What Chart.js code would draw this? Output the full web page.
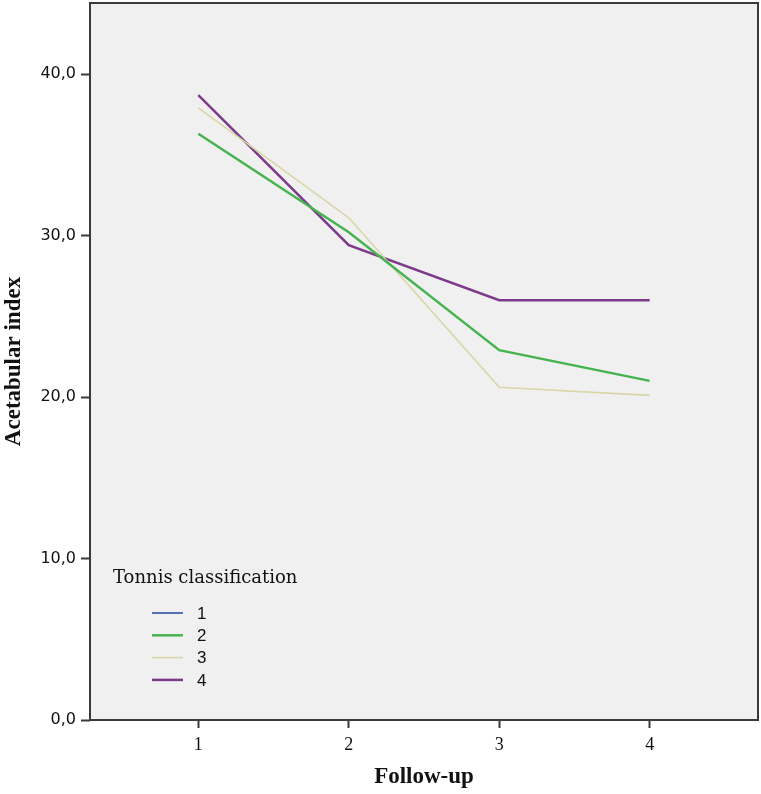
<!DOCTYPE html>
<html>
<head>
<meta charset="utf-8">
<script src="https://cdn.jsdelivr.net/npm/chart.js@4"></script>
<style>
  body { margin: 0; background: #fff; }
</style>
</head>
<body>
<canvas id="myChart" width="761" height="794"></canvas>
<script>
// the data
const followUp = [1, 2, 3, 4]
const groups = ['1', '2', '3', '4']
const tonnis1 = [null, null, null, null]
const tonnis2 = [36.3, 30.2, 22.9, 21.0]
const tonnis3 = [37.9, 31.1, 20.6, 20.1]
const tonnis4 = [38.7, 29.4, 26.0, 26.0]
const yTicks = [0, 10, 20, 30, 40]

const colors = ['#5571b3', '#47b350', '#d9d6a8', '#7d3a8b']
const widths = [2, 2.5, 1.6, 2.5]
const series = [tonnis1, tonnis2, tonnis3, tonnis4]

const ctx = document.getElementById('myChart').getContext('2d')

// grey plot area + frame
const plotFrame = {
  id: 'plotFrame',
  beforeDraw(chart) {
    const a = chart.chartArea
    const c = chart.ctx
    c.save()
    c.fillStyle = '#f0f0f0'
    c.fillRect(a.left, a.top, a.right - a.left, a.bottom - a.top)
    c.restore()
  },
  afterDraw(chart) {
    const a = chart.chartArea
    const c = chart.ctx
    c.save()
    c.strokeStyle = '#3a3a3a'
    c.lineWidth = 2
    c.strokeRect(a.left, a.top, a.right - a.left, a.bottom - a.top)
    c.restore()
  }
}

// legend drawn inside the plot, like the original
const innerLegend = {
  id: 'innerLegend',
  afterDraw(chart) {
    const c = chart.ctx
    c.save()
    c.fillStyle = '#111'
    c.font = '18px "DejaVu Serif"'
    c.textBaseline = 'middle'
    c.fillText('Tonnis classification', 113, 578)
    c.font = '17px "Liberation Sans"'
    chart.data.datasets.forEach((ds, i) => {
      const y = 613 + i * 22.3
      c.strokeStyle = ds.borderColor
      c.lineWidth = ds.borderWidth
      c.beginPath()
      c.moveTo(152, y)
      c.lineTo(183, y)
      c.stroke()
      c.fillText(ds.label, 197, y + 1)
    })
    c.restore()
  }
}

var chart = new Chart(ctx, {
  type: 'line',
  data: {
    datasets: groups.map((g, i) => ({
      label: g,
      data: followUp.map((x, j) => ({ x: x, y: series[i][j] })),
      borderColor: colors[i],
      backgroundColor: colors[i],
      borderWidth: widths[i],
      pointRadius: 0,
      tension: 0
    }))
  },
  options: {
    responsive: false,
    animation: false,
    layout: { padding: { top: 3, right: 3 } },
    plugins: {
      legend: { display: false },
      tooltip: { enabled: false }
    },
    scales: {
      x: {
        type: 'linear',
        min: 0.28,
        max: 4.72,
        afterBuildTicks: (axis) => { axis.ticks = followUp.map(v => ({ value: v })) },
        afterFit: (axis) => { axis.height = 74; axis.paddingLeft = 0; axis.paddingRight = 0 },
        grid: { drawOnChartArea: false, drawTicks: true, tickLength: 8, tickColor: '#3a3a3a', tickWidth: 2 },
        border: { display: false },
        ticks: { color: '#111', font: { family: 'Liberation Serif', size: 18 }, padding: 6 },
        title: {
          display: true,
          text: 'Follow-up',
          color: '#111',
          font: { family: 'Liberation Serif', size: 23, weight: 'bold' },
          padding: { top: 0, bottom: 3 }
        }
      },
      y: {
        min: 0,
        max: 44.4,
        afterBuildTicks: (axis) => { axis.ticks = yTicks.map(v => ({ value: v })) },
        afterFit: (axis) => { axis.width = 90; axis.paddingTop = 0; axis.paddingBottom = 0 },
        grid: { drawOnChartArea: false, drawTicks: true, tickLength: 9, tickColor: '#3a3a3a', tickWidth: 2 },
        border: { display: false },
        ticks: {
          color: '#111',
          font: { family: 'DejaVu Sans', size: 16 },
          padding: 5,
          callback: (v) => v.toFixed(1).replace('.', ',')
        },
        title: {
          display: true,
          text: 'Acetabular index',
          color: '#111',
          font: { family: 'Liberation Serif', size: 23, weight: 'bold' },
          padding: { top: 0, bottom: 0 }
        }
      }
    }
  },
  plugins: [plotFrame, innerLegend]
})
</script>
</body>
</html>
